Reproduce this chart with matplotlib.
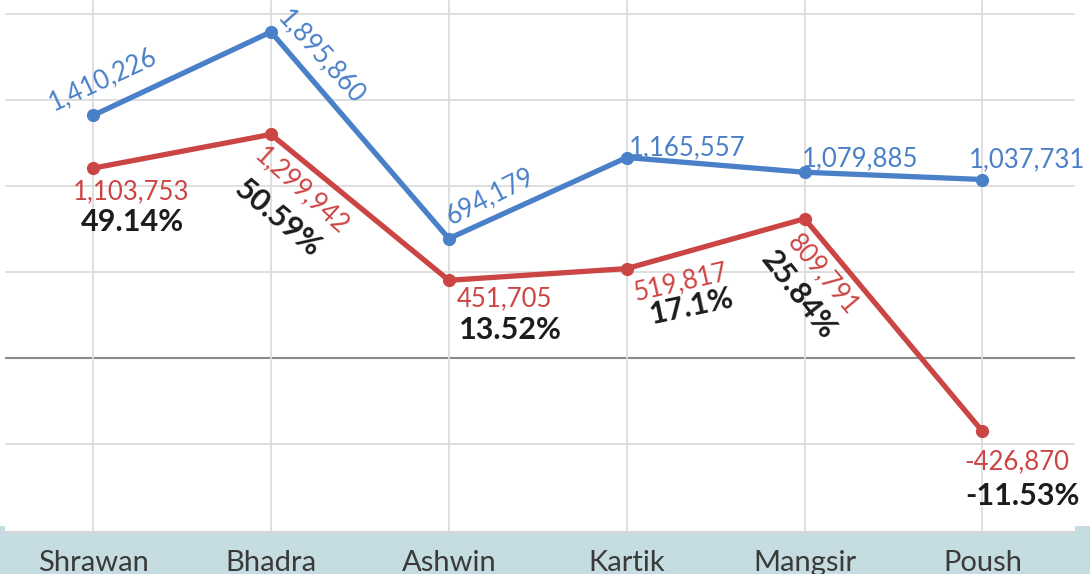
import numpy as np
import matplotlib
matplotlib.use("Agg")
import matplotlib.pyplot as plt
from matplotlib.patches import Rectangle

months = ["Shrawan", "Bhadra", "Ashwin", "Kartik", "Mangsir", "Poush"]
blue_vals = [1410226, 1895860, 694179, 1165557, 1079885, 1037731]
red_vals = [1103753, 1299942, 451705, 519817, 809791, -426870]
pct_labels = ["49.14%", "50.59%", "13.52%", "17.1%", "25.84%", "-11.53%"]

blue = "#4a80c8"
red = "#cc4545"
band = "#c5dce0"

plt.rcParams["font.family"] = ["Lato", "DejaVu Sans"]

W, H = 1090, 574
fig = plt.figure(figsize=(W / 100, H / 100), dpi=100)
ax = fig.add_axes([5 / W, (H - 532) / H, 1070 / W, 532 / H])

x = np.arange(len(months))
ax.set_xlim(-0.495, 5.52)
ax.set_ylim(-1011600, 2081400)

# grid
for yv in [-500000, 500000, 1000000, 1500000, 2000000]:
    ax.axhline(yv, color="#dcdcdc", lw=1.3, zorder=0)
ax.axhline(0, color="#8a8a8a", lw=1.5, zorder=0)
for xi in x:
    ax.axvline(xi, color="#dcdcdc", lw=1.3, zorder=0)

ax.plot(x, blue_vals, color=blue, lw=3.8, marker="o", ms=8.5, zorder=3)
ax.plot(x, red_vals, color=red, lw=3.8, marker="o", ms=8.5, zorder=3)

# label offsets in pixels (dx right, dy up) and rotations
blue_off = [(10, 36, 25), (50, -25, -48), (41, 42, 27), (60, 10, 0), (56, 13, 0), (45, 20, 0)]
red_off = [(38, -24, 0), (31, -56, -42), (56, -19, 0), (54, -14, 13), (18, -56, -50), (34, -30, 0)]
pct_off = [(39, -54, 0), (7, -84, -40), (62, -50, 0), (65, -38, 12), (-6, -76, -52), (40, -65, 0)]
k = 0.72
for i in range(len(months)):
    dx, dy, r = blue_off[i]
    ax.annotate(f"{blue_vals[i]:,}", (x[i], blue_vals[i]), xytext=(dx * k, dy * k),
                textcoords="offset points", ha="center", va="center", rotation=r,
                rotation_mode="anchor", color=blue, fontsize=18.5)
    dx, dy, r = red_off[i]
    ax.annotate(f"{red_vals[i]:,}", (x[i], red_vals[i]), xytext=(dx * k, dy * k),
                textcoords="offset points", ha="center", va="center", rotation=r,
                rotation_mode="anchor", color=red, fontsize=18.5)
    dx, dy, r = pct_off[i]
    ax.annotate(pct_labels[i], (x[i], red_vals[i]), xytext=(dx * k, dy * k),
                textcoords="offset points", ha="center", va="center", rotation=r,
                rotation_mode="anchor", color="#1c1c1c", fontsize=22, fontweight="bold")

ax.set_xticks([])
ax.set_yticks([])
for s in ax.spines.values():
    s.set_visible(False)

# bottom band with month names
fig.patches.append(Rectangle((0, 0), 1, (H - 526) / H, transform=fig.transFigure,
                             facecolor=band, edgecolor="none", zorder=-1))
ax.axhline(-1011600, color="#d6d6d6", lw=1.5, zorder=0, clip_on=False)
for i, m in enumerate(months):
    xp = ax.transData.transform((x[i], 0))[0] / W
    fig.text(xp, 3 / H, m, ha="center", va="baseline", fontsize=21, color="#3a3a3a")

fig.savefig("out.png", dpi=100)
